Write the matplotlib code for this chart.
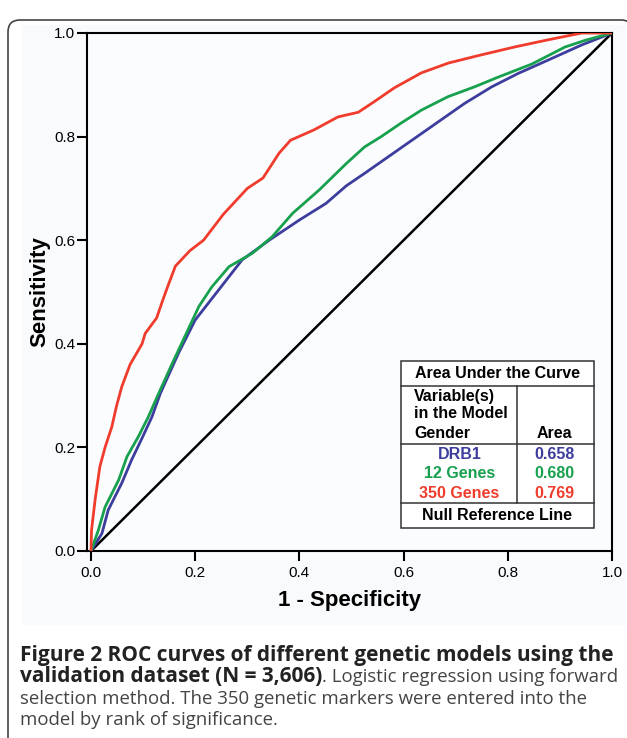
import numpy as np
import matplotlib.pyplot as plt
from matplotlib.patches import FancyBboxPatch, Rectangle
from matplotlib.transforms import IdentityTransform

# Curvas ROC (1 - especificidade, sensibilidade)
red_x = [0, 0.001, 0.008, 0.017, 0.027, 0.04, 0.049, 0.059, 0.075, 0.098, 0.104, 0.126,
         0.138, 0.147, 0.162, 0.19, 0.216, 0.254, 0.30, 0.33, 0.361, 0.383, 0.428, 0.474,
         0.513, 0.543, 0.582, 0.634, 0.686, 0.75, 0.813, 0.878, 0.942, 1.0]
red_y = [0, 0.04, 0.10, 0.163, 0.20, 0.24, 0.28, 0.317, 0.36, 0.40, 0.42, 0.45,
         0.485, 0.51, 0.55, 0.58, 0.60, 0.65, 0.70, 0.72, 0.768, 0.793, 0.813, 0.838,
         0.847, 0.867, 0.894, 0.923, 0.942, 0.958, 0.973, 0.987, 1.0, 1.0]

green_x = [0, 0.014, 0.027, 0.053, 0.069, 0.091, 0.11, 0.128, 0.155, 0.181, 0.207, 0.232,
           0.265, 0.31, 0.348, 0.387, 0.438, 0.49, 0.525, 0.557, 0.595, 0.634, 0.685,
           0.736, 0.782, 0.846, 0.91, 0.949, 1.0]
green_y = [0, 0.04, 0.085, 0.137, 0.182, 0.221, 0.259, 0.30, 0.36, 0.416, 0.472, 0.51,
           0.549, 0.575, 0.607, 0.652, 0.697, 0.748, 0.78, 0.80, 0.826, 0.851, 0.877,
           0.896, 0.915, 0.94, 0.973, 0.986, 1.0]

blue_x = [0, 0.021, 0.033, 0.059, 0.078, 0.098, 0.117, 0.133, 0.168, 0.2, 0.245, 0.29,
          0.342, 0.40, 0.451, 0.49, 0.525, 0.589, 0.653, 0.717, 0.769, 0.82, 0.878,
          0.942, 1.0]
blue_y = [0, 0.034, 0.079, 0.131, 0.176, 0.218, 0.259, 0.304, 0.382, 0.446, 0.504, 0.562,
          0.60, 0.639, 0.671, 0.705, 0.729, 0.774, 0.819, 0.864, 0.896, 0.922, 0.948,
          0.977, 1.0]

modelos = ['DRB1', '12 Genes', '350 Genes']
areas = ['0.658', '0.680', '0.769']
cores = ['#3d3d9e', '#17a04e', '#f03c2d']
ticks = [0.0, 0.2, 0.4, 0.6, 0.8, 1.0]

W, H = 627, 738
fig = plt.figure(figsize=(W / 100, H / 100), dpi=100)
fig.patch.set_facecolor('white')

# Moldura arredondada da figura
moldura = FancyBboxPatch((8, -40), 625, H - 10 + 40 - 10, boxstyle='round,pad=0,rounding_size=12',
                         transform=IdentityTransform(), facecolor='white',
                         edgecolor='#444444', linewidth=1.2, zorder=-2)
fig.patches.append(moldura)
fundo = Rectangle((22, H - 625), 603, 600, transform=IdentityTransform(),
                  facecolor='#f9fafc', edgecolor='none', zorder=-1)
fig.patches.append(fundo)

ax = fig.add_axes([87 / W, 1 - 551 / H, (612 - 87) / W, (551 - 33) / H])
ax.set_facecolor('#fbfcfd')

ax.plot([0, 1], [0, 1], color='black', linewidth=1.8, zorder=2)
ax.plot(blue_x, blue_y, color=cores[0], linewidth=2.0, zorder=3)
ax.plot(green_x, green_y, color=cores[1], linewidth=2.0, zorder=4)
ax.plot(red_x, red_y, color=cores[2], linewidth=2.0, zorder=5)

ax.set_xlim(-0.0077, 1.0)
ax.set_ylim(0, 1.0)
ax.set_xticks(ticks)
ax.set_yticks(ticks)
ax.set_xticklabels(['%.1f' % t for t in ticks], family='Liberation Sans', fontsize=11)
ax.set_yticklabels(['%.1f' % t for t in ticks], family='Liberation Sans', fontsize=11)
ax.tick_params(axis='both', direction='out', length=7, width=1.5, color='black')
ax.tick_params(axis='x', pad=4)
ax.tick_params(axis='y', pad=1.5)
for s in ax.spines.values():
    s.set_linewidth(1.5)
    s.set_color('black')

ax.set_xlabel('1 - Specificity', family='Liberation Sans', fontweight='bold', fontsize=16, labelpad=7)
ax.set_ylabel('Sensitivity', family='Liberation Sans', fontweight='bold', fontsize=16, labelpad=3)

# Tabela da área sob a curva
tx0, tx1, tcol = 0.595, 0.965, 0.817
linhas = [0.367, 0.319, 0.206, 0.093, 0.044]
kw = dict(color='#333333', linewidth=1.1, zorder=6)
ax.add_patch(Rectangle((tx0, linhas[-1]), tx1 - tx0, linhas[0] - linhas[-1],
                       facecolor='white', edgecolor='#333333', linewidth=1.1, zorder=6))
for yl in linhas[1:-1]:
    ax.plot([tx0, tx1], [yl, yl], **kw)
ax.plot([tcol, tcol], [linhas[1], linhas[3]], **kw)

tf = dict(family='Liberation Sans', fontweight='bold', fontsize=11.5, zorder=7)
ax.text((tx0 + tx1) / 2, 0.343, 'Area Under the Curve', ha='center', va='center', **tf)
for texto, yy in zip(['Variable(s)', 'in the Model', 'Gender'], [0.298, 0.266, 0.227]):
    ax.text(0.62, yy, texto, ha='left', va='center', **tf)
ax.text(0.89, 0.227, 'Area', ha='center', va='center', **tf)
for nome, area, cor, yy in zip(modelos, areas, cores, [0.187, 0.149, 0.111]):
    ax.text(0.707, yy, nome, ha='center', va='center', color=cor, **tf)
    ax.text(0.89, yy, area, ha='center', va='center', color=cor, **tf)
ax.text((tx0 + tx1) / 2, 0.068, 'Null Reference Line', ha='center', va='center', **tf)

# Legenda da figura (negrito + normal na mesma linha)
cap_font = 'Open Sans'
tam = {'bold': 15, 'normal': 13.4}
renderer = fig.canvas.get_renderer()


def linha_legenda(y_px, partes):
    x_px = 20
    for texto, peso, cor in partes:
        t = fig.text(x_px / W, 1 - y_px / H, texto, family=cap_font, fontsize=tam[peso],
                     fontweight=peso, color=cor, ha='left', va='center')
        bb = t.get_window_extent(renderer=renderer)
        x_px = bb.x1


linha_legenda(655, [('Figure 2 ROC curves of different genetic models using the', 'bold', '#222222')])
linha_legenda(677, [('validation dataset (N = 3,606)', 'bold', '#222222'),
                    ('. Logistic regression using forward', 'normal', '#444444')])
linha_legenda(699, [('selection method. The 350 genetic markers were entered into the', 'normal', '#444444')])
linha_legenda(720, [('model by rank of significance.', 'normal', '#444444')])

fig.savefig('out.png', dpi=100)
